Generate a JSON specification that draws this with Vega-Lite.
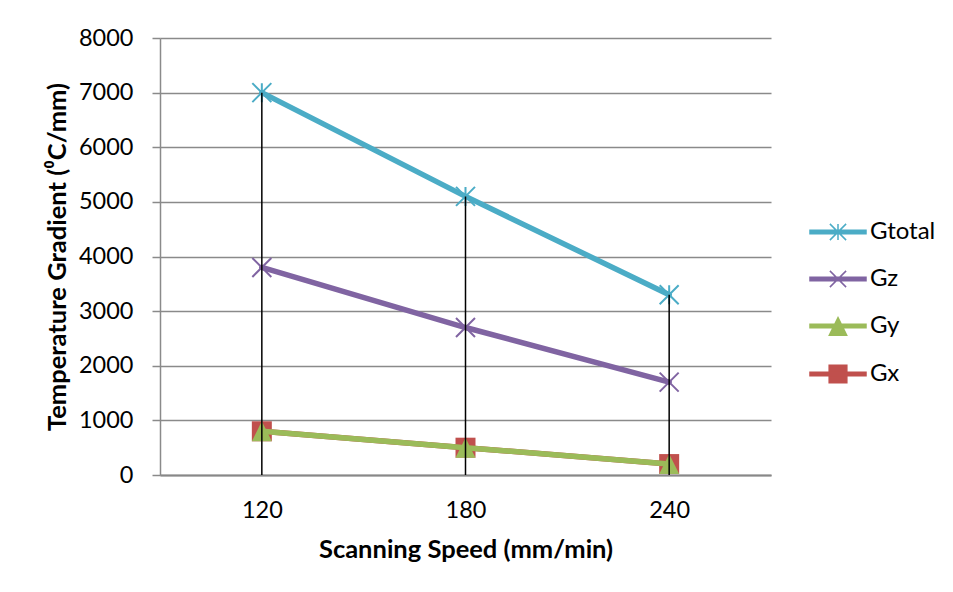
{
  "$schema": "https://vega.github.io/schema/vega-lite/v6.json",
  "width": 611,
  "height": 437,
  "autosize": {"type": "none"},
  "padding": {"left": 160, "top": 38, "right": 182, "bottom": 117},
  "background": "white",
  "config": {
    "font": "Lato",
    "view": {"stroke": null},
    "axis": {"labelColor": "black", "titleColor": "black", "labelFont": "Lato", "titleFont": "Lato"}
  },
  "data": {
    "values": [
      {"series": "Gx", "speed": 120, "value": 800},
      {"series": "Gx", "speed": 180, "value": 500},
      {"series": "Gx", "speed": 240, "value": 200},
      {"series": "Gy", "speed": 120, "value": 800},
      {"series": "Gy", "speed": 180, "value": 500},
      {"series": "Gy", "speed": 240, "value": 200},
      {"series": "Gz", "speed": 120, "value": 3800},
      {"series": "Gz", "speed": 180, "value": 2700},
      {"series": "Gz", "speed": 240, "value": 1700},
      {"series": "Gtotal", "speed": 120, "value": 7000},
      {"series": "Gtotal", "speed": 180, "value": 5100},
      {"series": "Gtotal", "speed": 240, "value": 3300}
    ]
  },
  "encoding": {
    "x": {
      "field": "speed", "type": "ordinal",
      "scale": {"type": "point", "padding": 0.5},
      "axis": {
        "title": "Scanning Speed (mm/min)",
        "labelAngle": 0, "labelFontSize": 23.5, "labelPadding": 23,
        "ticks": false, "grid": false,
        "domainColor": "#888888", "domainWidth": 2,
        "titleFontSize": 25.5, "titleFontWeight": "bold", "titlePadding": 16
      }
    },
    "y": {
      "field": "value", "type": "quantitative",
      "scale": {"domain": [0, 8000], "nice": false},
      "axis": {
        "title": "Temperature Gradient (⁰C/mm)",
        "values": [0, 1000, 2000, 3000, 4000, 5000, 6000, 7000, 8000],
        "format": "d",
        "labelFontSize": 23.5, "labelPadding": 19,
        "tickSize": 8, "tickColor": "#8a8a8a", "tickWidth": 1.5,
        "domainColor": "#8a8a8a", "domainWidth": 1.5,
        "grid": true, "gridColor": "#8a8a8a", "gridWidth": 1.5,
        "titleFontSize": 25.5, "titleFontWeight": "bold", "titlePadding": 8
      }
    }
  },
  "layer": [
    {
      "transform": [{"filter": "datum.series === 'Gx'"}],
      "mark": {"type": "line", "strokeWidth": 5.5, "strokeCap": "round"},
      "encoding": {"color": {"field": "series", "type": "nominal", "scale": {"domain": ["Gx", "Gy", "Gz", "Gtotal"], "range": ["#C0504D", "#9BBB59", "#8064A2", "#4BACC6"]}, "legend": null}}
    },
    {
      "transform": [{"filter": "datum.series === 'Gx'"}],
      "mark": {"type": "point", "shape": "square", "size": 400, "filled": true, "opacity": 1},
      "encoding": {"color": {"field": "series", "type": "nominal", "legend": null}}
    },
    {
      "transform": [{"filter": "datum.series === 'Gy'"}],
      "mark": {"type": "line", "strokeWidth": 5.5, "strokeCap": "round"},
      "encoding": {"color": {"field": "series", "type": "nominal", "legend": null}}
    },
    {
      "transform": [{"filter": "datum.series === 'Gy'"}],
      "mark": {"type": "point", "shape": "M0,-1L1,1L-1,1Z", "size": 400, "filled": true, "opacity": 1},
      "encoding": {"color": {"field": "series", "type": "nominal", "legend": null}}
    },
    {
      "transform": [{"filter": "datum.series === 'Gz'"}],
      "mark": {"type": "line", "strokeWidth": 5.5, "strokeCap": "round"},
      "encoding": {"color": {"field": "series", "type": "nominal", "legend": null}}
    },
    {
      "transform": [{"filter": "datum.series === 'Gz'"}],
      "mark": {"type": "point", "shape": "M-1,-1L1,1M-1,1L1,-1", "size": 361, "filled": false, "strokeWidth": 2, "opacity": 1},
      "encoding": {"color": {"field": "series", "type": "nominal", "legend": null}}
    },
    {
      "transform": [{"filter": "datum.series === 'Gtotal'"}],
      "mark": {"type": "line", "strokeWidth": 5.5, "strokeCap": "round"},
      "encoding": {"color": {"field": "series", "type": "nominal", "legend": null}}
    },
    {
      "transform": [{"filter": "datum.series === 'Gtotal'"}],
      "mark": {"type": "point", "shape": "M-1,-1L1,1M-1,1L1,-1M0,-1V1", "size": 361, "filled": false, "strokeWidth": 2, "opacity": 1},
      "encoding": {"color": {"field": "series", "type": "nominal", "legend": null}}
    },
    {
      "transform": [{"filter": "datum.series === 'Gtotal'"}],
      "mark": {"type": "rule", "color": "black", "strokeWidth": 1.5},
      "encoding": {"y2": {"datum": 0}}
    },
    {
      "mark": {"type": "point", "opacity": 0, "filled": true, "strokeWidth": 1.5},
      "encoding": {
        "fill": {"field": "series", "type": "nominal", "scale": {"domain": ["Gtotal", "Gz", "Gy", "Gx"], "range": ["#4BACC6", "#8064A2", "#9BBB59", "#C0504D"]},
          "legend": {"title": null, "orient": "none", "legendX": 649, "legendY": 165, "symbolSize": 3136, "symbolStrokeWidth": 1.5, "rowPadding": 6, "labelFontSize": 24, "labelFont": "Lato", "labelColor": "black", "labelOffset": 3,
            "encode": {"symbols": {"update": {"opacity": {"value": 1}}}}}},
        "stroke": {"field": "series", "type": "nominal", "scale": {"domain": ["Gtotal", "Gz", "Gy", "Gx"], "range": ["#4BACC6", "#8064A2", "#9BBB59", "#C0504D"]}},
        "shape": {"field": "series", "type": "nominal",
          "scale": {"domain": ["Gtotal", "Gz", "Gy", "Gx"], "range": [
            "M-1,-0.0625H1V0.0625H-1ZM-0.29,-0.29L0.29,0.29M-0.29,0.29L0.29,-0.29M0,-0.29V0.29",
            "M-1,-0.0625H1V0.0625H-1ZM-0.29,-0.29L0.29,0.29M-0.29,0.29L0.29,-0.29",
            "M-1,-0.0625H1V0.0625H-1ZM0,-0.3L0.31,0.33L-0.31,0.33Z",
            "M-1,-0.0625H1V0.0625H-1ZM-0.315,-0.315H0.315V0.315H-0.315Z"
          ]}}
      }
    }
  ]
}
